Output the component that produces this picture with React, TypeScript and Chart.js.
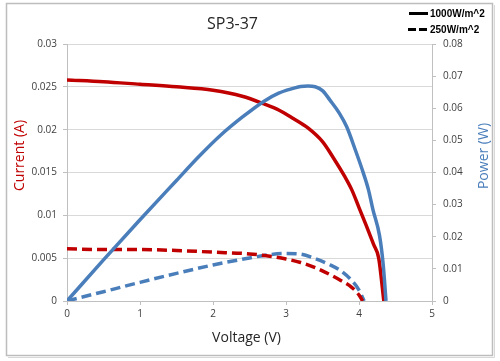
import React, { useEffect, useRef } from "react";
import { Chart, registerables } from "chart.js";

Chart.register(...registerables);

// 1000 W/m^2 current curve
const voltage1000I = [0, 0.5, 1, 1.5, 2, 2.4, 2.7, 2.9, 3.1, 3.3, 3.5, 3.65, 3.8, 3.9, 4.0, 4.1, 4.2, 4.27, 4.34];
const current1000 = [0.0258, 0.0256, 0.0253, 0.025, 0.0246, 0.0239, 0.023, 0.0223, 0.0213, 0.0202, 0.0186, 0.0167, 0.0146, 0.013, 0.0109, 0.0088, 0.0066, 0.005, 0];

// 1000 W/m^2 power curve
const voltage1000P = [0, 0.5, 1, 1.5, 1.8, 2.1, 2.4, 2.7, 2.9, 3.1, 3.2, 3.3, 3.4, 3.5, 3.6, 3.73, 3.83, 3.95, 4.06, 4.13, 4.19, 4.28, 4.33, 4.37];
const power1000 = [0, 0.0128, 0.0253, 0.0375, 0.0448, 0.0515, 0.0572, 0.0622, 0.0647, 0.0662, 0.0668, 0.0669, 0.0667, 0.0655, 0.0626, 0.0585, 0.0543, 0.047, 0.0398, 0.0346, 0.0285, 0.0205, 0.0117, 0];

// 250 W/m^2 current curve
const voltage250I = [0, 0.5, 1, 1.5, 2, 2.5, 2.8, 3.0, 3.2, 3.4, 3.6, 3.75, 3.9, 4.0, 4.05];
const current250 = [0.0061, 0.006, 0.006, 0.0059, 0.0057, 0.0055, 0.0052, 0.0049, 0.0045, 0.0039, 0.0031, 0.0024, 0.0016, 0.0007, 0];

// 250 W/m^2 power curve
const voltage250P = [0, 0.5, 1, 1.5, 2, 2.5, 2.8, 3.0, 3.2, 3.4, 3.6, 3.75, 3.9, 4.0, 4.07];
const power250 = [0, 0.0029, 0.0058, 0.0086, 0.0112, 0.0134, 0.0145, 0.0148, 0.0146, 0.0132, 0.0113, 0.0094, 0.0064, 0.0034, 0];

const chartTitle = "SP3-37";
const xTitle = "Voltage (V)";
const yLeftTitle = "Current (A)";
const yRightTitle = "Power (W)";
const legendLabels = ["1000W/m^2", "250W/m^2"];

const RED = "#c00000";
const BLUE = "#4a7ebb";
const FONT = "'Open Sans', 'DejaVu Sans', sans-serif";

export default function App() {
  const ref = useRef<HTMLCanvasElement>(null);

  useEffect(() => {
    const canvas = ref.current;
    if (!canvas) return;
    const pts = (xs: number[], ys: number[]) => xs.map((x, i) => ({ x, y: ys[i] }));

    const decor = {
      id: "decor",
      beforeDraw(chart: any) {
        const ctx = chart.ctx;
        ctx.save();
        ctx.fillStyle = "#ffffff";
        ctx.fillRect(0, 0, chart.width, chart.height);
        ctx.restore();
      },
      afterDraw(chart: any) {
        const ctx = chart.ctx;
        ctx.save();
        // frame
        ctx.strokeStyle = "#bdbdbd";
        ctx.lineWidth = 1.5;
        ctx.strokeRect(6.5, 3.5, 486, 352);
        ctx.strokeStyle = "#d8d8d8";
        ctx.lineWidth = 1;
        ctx.beginPath();
        ctx.moveTo(8, 357.5);
        ctx.lineTo(494.5, 357.5);
        ctx.lineTo(494.5, 5);
        ctx.stroke();

        // title
        ctx.fillStyle = "#262626";
        ctx.font = `16px ${FONT}`;
        ctx.textAlign = "center";
        ctx.textBaseline = "middle";
        ctx.fillText(chartTitle, 232.5, 24);

        // x axis title
        ctx.font = `14px ${FONT}`;
        ctx.fillStyle = "#262626";
        ctx.fillText(xTitle, 246.5, 338);

        // left axis title
        ctx.save();
        ctx.translate(20, 155.5);
        ctx.rotate(-Math.PI / 2);
        ctx.fillStyle = RED;
        ctx.fillText(yLeftTitle, 0, 0);
        ctx.restore();

        // right axis title
        ctx.save();
        ctx.translate(484, 156);
        ctx.rotate(-Math.PI / 2);
        ctx.fillStyle = BLUE;
        ctx.fillText(yRightTitle, 0, 0);
        ctx.restore();

        // legend
        ctx.strokeStyle = "#000000";
        ctx.lineWidth = 3;
        ctx.lineCap = "butt";
        ctx.setLineDash([]);
        ctx.beginPath();
        ctx.moveTo(409, 13.5);
        ctx.lineTo(428, 13.5);
        ctx.stroke();
        ctx.setLineDash([8, 3]);
        ctx.beginPath();
        ctx.moveTo(408, 29.5);
        ctx.lineTo(428, 29.5);
        ctx.stroke();
        ctx.setLineDash([]);
        ctx.fillStyle = "#000000";
        ctx.font = "bold 10px 'Liberation Sans', Arial, sans-serif";
        ctx.textAlign = "left";
        ctx.fillText(legendLabels[0], 430, 14);
        ctx.fillText(legendLabels[1], 430, 30);
        ctx.restore();
      },
    };

    const tickFont = { family: FONT, size: 10 };
    const fmt = (v: any) => String(parseFloat(Number(v).toFixed(4)));

    const chart = new Chart(canvas, {
      type: "line",
      data: {
        datasets: [
          {
            label: "Power 1000",
            data: pts(voltage1000P, power1000),
            yAxisID: "y1",
            borderColor: BLUE,
            borderWidth: 3.5,
            pointRadius: 0,
            cubicInterpolationMode: "monotone",
            order: 1,
          },
          {
            label: "Current 1000",
            data: pts(voltage1000I, current1000),
            yAxisID: "y",
            borderColor: RED,
            borderWidth: 3.5,
            pointRadius: 0,
            cubicInterpolationMode: "monotone",
            order: 2,
          },
          {
            label: "Current 250",
            data: pts(voltage250I, current250),
            yAxisID: "y",
            borderColor: RED,
            borderWidth: 3.5,
            borderDash: [10, 5],
            pointRadius: 0,
            cubicInterpolationMode: "monotone",
            order: 3,
          },
          {
            label: "Power 250",
            data: pts(voltage250P, power250),
            yAxisID: "y1",
            borderColor: BLUE,
            borderWidth: 3.5,
            borderDash: [10, 5],
            pointRadius: 0,
            cubicInterpolationMode: "monotone",
            order: 4,
          },
        ] as any,
      },
      options: {
        responsive: false,
        animation: false,
        layout: { padding: { top: 44, left: 0, right: 0, bottom: 0 } },
        plugins: {
          legend: { display: false },
          title: { display: false },
          tooltip: { enabled: false },
        },
        scales: {
          x: {
            type: "linear",
            min: 0,
            max: 5,
            ticks: { stepSize: 1, font: tickFont, color: "#404040", padding: 3 },
            grid: { drawOnChartArea: false, drawTicks: true, tickLength: 4, tickColor: "#c0c0c0" },
            border: { display: true, color: "#c0c0c0", width: 1 },
            afterFit: (s: any) => {
              s.height = 60;
            },
          },
          y: {
            type: "linear",
            position: "left",
            min: 0,
            max: 0.03,
            ticks: { stepSize: 0.005, font: tickFont, color: "#404040", padding: 6, callback: fmt },
            grid: { color: "#d9d9d9", drawTicks: true, tickLength: 4, tickColor: "#c0c0c0" },
            border: { display: true, color: "#c0c0c0", width: 1 },
            afterFit: (s: any) => {
              s.width = 67;
            },
          },
          y1: {
            type: "linear",
            position: "right",
            min: 0,
            max: 0.08,
            ticks: { stepSize: 0.01, font: tickFont, color: "#404040", padding: 7, callback: fmt },
            grid: { drawOnChartArea: false, drawTicks: true, tickLength: 4, tickColor: "#c0c0c0" },
            border: { display: true, color: "#c0c0c0", width: 1 },
            afterFit: (s: any) => {
              s.width = 68;
            },
          },
        },
      } as any,
      plugins: [decor],
    });

    return () => chart.destroy();
  }, []);

  return (
    <div style={{ position: "absolute", left: 0, top: 0, width: 500, height: 361 }}>
      <canvas ref={ref} width={500} height={361} style={{ display: "block" }} />
    </div>
  );
}
